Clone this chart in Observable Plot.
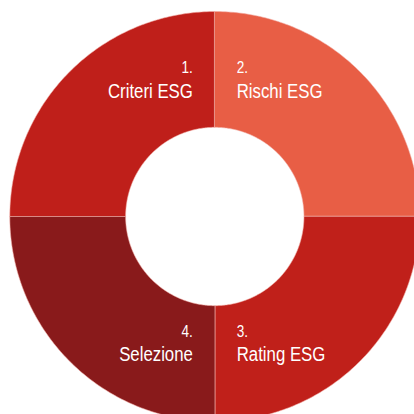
<!DOCTYPE html>
<html><head><meta charset="utf-8">
<script src="https://cdn.jsdelivr.net/npm/d3@7"></script>
<script src="https://cdn.jsdelivr.net/npm/@observablehq/plot@0.6"></script>
<style>html,body{margin:0;padding:0;background:#fff;overflow:hidden}</style>
</head><body><div id="chart"></div>
<script>
const steps = ["1.", "2.", "3.", "4."];
const labels = ["Criteri ESG", "Rischi ESG", "Rating ESG", "Selezione"];
const values = [1, 1, 1, 1];
const colors = ["#bf1f1a", "#e85e45", "#c0201a", "#891a1b"];

const innerRatio = 0.435;
const arcs = d3.pie().sort(null).startAngle(-Math.PI / 2).endAngle(1.5 * Math.PI)(values);
const pt = (a, r) => [r * Math.sin(a), r * Math.cos(a)];
function ring(a0, a1) {
  const n = 120;
  const outer = d3.range(n + 1).map(i => pt(a0 + (a1 - a0) * i / n, 1));
  const inner = d3.range(n + 1).map(i => pt(a1 + (a0 - a1) * i / n, innerRatio));
  const c = outer.concat(inner);
  c.push(c[0]);
  return c;
}
const slices = arcs.map((a, i) => ({
  type: "Feature",
  properties: {color: colors[i], step: steps[i], label: labels[i]},
  geometry: {type: "Polygon", coordinates: [ring(a.startAngle, a.endAngle)]}
}));
const texts = arcs.map((a, i) => {
  const mid = (a.startAngle + a.endAngle) / 2;
  const sx = Math.sign(Math.sin(mid));
  const top = Math.cos(mid) > 0;
  return {
    step: steps[i], label: labels[i], side: sx,
    x: sx * 0.107,
    yn: top ? 0.698 : -0.590,
    yl: top ? 0.576 : -0.707
  };
});
const left = texts.filter(d => d.side < 0), right = texts.filter(d => d.side > 0);
const font = "'Liberation Sans', Arial, sans-serif";
const common = {fill: "#fff", lineAnchor: "bottom", fontFamily: font};

const chart = Plot.plot({
  width: 414, height: 414,
  margin: 0,
  projection: d3.geoIdentity().reflectY(true).scale(205).translate([214.3, 216]),
  style: {background: "#fff"},
  marks: [
    Plot.geo(slices, {fill: d => d.properties.color, stroke: "#f2b0a8", strokeWidth: 0.8, strokeOpacity: 0.7}),
    Plot.text(left, {...common, x: "x", y: "yn", text: "step", textAnchor: "end", fontSize: 17}),
    Plot.text(right, {...common, x: "x", y: "yn", text: "step", textAnchor: "start", fontSize: 17}),
    Plot.text(left, {...common, x: "x", y: "yl", text: "label", textAnchor: "end", fontSize: 21}),
    Plot.text(right, {...common, x: "x", y: "yl", text: "label", textAnchor: "start", fontSize: 21})
  ]
});
// condensed look: narrow the glyphs horizontally around each anchor
chart.querySelectorAll("text").forEach(t => {
  const tr = t.getAttribute("transform") || "";
  t.setAttribute("transform", tr + " scale(0.8,1)");
});
document.getElementById("chart").appendChild(chart);
</script>
</body></html>
